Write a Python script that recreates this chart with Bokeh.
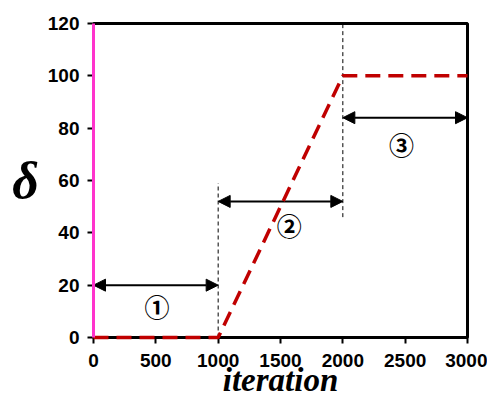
from bokeh.plotting import figure
from bokeh.models import Range1d, Arrow, NormalHead, Label, FixedTicker
from bokeh.embed import file_html
from bokeh.resources import INLINE

# data
iterations = [0, 1000, 2000, 3000]
delta = [0, 0, 100, 100]
magenta_x = [0, 0]
magenta_y = [0, 120]
boundary1_x = [1000, 1000]
boundary1_y = [0, 59]
boundary2_x = [2000, 2000]
boundary2_y = [46, 120]
arrow_starts = [0, 1000, 2000]
arrow_ends = [1000, 2000, 3000]
arrow_y = [20, 52, 84]
phase_labels = ["\u2460", "\u2461", "\u2462"]
phase_label_x = [510, 1570, 2470]
phase_label_y = [12, 43, 74]
x_ticks = [0, 500, 1000, 1500, 2000, 2500, 3000]
y_ticks = [0, 20, 40, 60, 80, 100, 120]

p = figure(width=487, height=402, output_backend="svg", toolbar_location=None,
           x_range=Range1d(0, 3000), y_range=Range1d(0, 120),
           min_border_left=93, min_border_right=20, min_border_top=23, min_border_bottom=65)
p.background_fill_color = "white"
p.border_fill_color = "white"
p.xgrid.visible = False
p.ygrid.visible = False
p.outline_line_color = "black"
p.outline_line_width = 3

for ax in (p.xaxis[0], p.yaxis[0]):
    ax.axis_line_width = 3
    ax.axis_line_color = "black"
    ax.major_tick_line_width = 2
    ax.major_tick_in = 0
    ax.major_tick_out = 6
    ax.minor_tick_line_color = None
    ax.major_label_text_font = "Liberation Sans"
    ax.major_label_text_font_style = "bold"
    ax.major_label_text_font_size = "19px"
    ax.major_label_text_color = "black"
    ax.axis_label_text_font = "Liberation Serif"
    ax.axis_label_text_font_style = "bold italic"
    ax.axis_label_text_color = "black"

p.xaxis.ticker = FixedTicker(ticks=x_ticks)
p.yaxis.ticker = FixedTicker(ticks=y_ticks)
p.xaxis.major_label_standoff = 10
p.yaxis.major_label_standoff = 8
p.xaxis.axis_label = "iteration"
p.xaxis.axis_label_text_font_size = "33px"
p.xaxis.axis_label_standoff = -8
p.yaxis.axis_label = "\u03b4"
p.yaxis.axis_label_text_font_size = "52px"
p.yaxis.axis_label_standoff = 6
p.yaxis.axis_label_orientation = "horizontal"

# boundaries
p.line(boundary1_x, boundary1_y, line_color="black", line_width=1, line_dash="4 3")
p.line(boundary2_x, boundary2_y, line_color="black", line_width=1, line_dash="4 3")

# schedule
p.line(iterations, delta, line_color="#C00000", line_width=3.5, line_dash="15 8", level="overlay")
p.line(magenta_x, magenta_y, line_color="#FF33CC", line_width=3, level="overlay")

for xs, xe, ya in zip(arrow_starts, arrow_ends, arrow_y):
    p.add_layout(Arrow(x_start=xs, y_start=ya, x_end=xe, y_end=ya,
                       line_color="black", line_width=2,
                       start=NormalHead(size=12, fill_color="black", line_color="black"),
                       end=NormalHead(size=12, fill_color="black", line_color="black")))

for t, lx, ly in zip(phase_labels, phase_label_x, phase_label_y):
    p.add_layout(Label(x=lx, y=ly, text=t, text_font="Noto Sans CJK SC", text_font_size="25px",
                       text_font_style="bold",
                       text_align="center", text_baseline="middle", text_color="black"))

open("out.html", "w").write(file_html(p, INLINE))
